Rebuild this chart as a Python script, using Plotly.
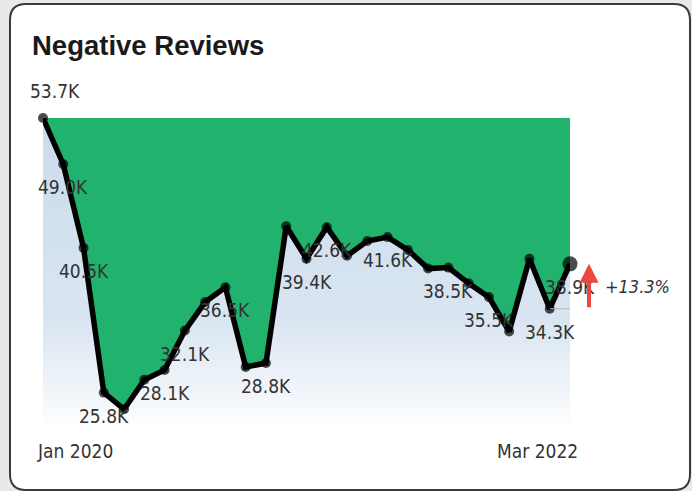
import plotly.graph_objects as go

# ---------------- data ----------------
months = ["Jan 2020", "Feb 2020", "Mar 2020", "Apr 2020", "May 2020", "Jun 2020",
          "Jul 2020", "Aug 2020", "Sep 2020", "Oct 2020", "Nov 2020", "Dec 2020",
          "Jan 2021", "Feb 2021", "Mar 2021", "Apr 2021", "May 2021", "Jun 2021",
          "Jul 2021", "Aug 2021", "Sep 2021", "Oct 2021", "Nov 2021", "Dec 2021",
          "Jan 2022", "Feb 2022", "Mar 2022"]
values = [53.7, 49.0, 40.5, 25.8, 24.1, 27.1, 28.1, 32.1, 35.0, 36.5, 28.4, 28.8,
          42.7, 39.4, 42.6, 39.7, 41.2, 41.6, 40.3, 38.4, 38.5, 36.9, 35.5, 32.0,
          39.4, 34.32, 38.88]
labeled_idx = [0, 1, 2, 3, 6, 7, 9, 11, 13, 14, 17, 20, 22, 25, 26]
tick_labels = ["Jan 2020", "Mar 2022"]
title_text = "Negative Reviews"

# ---------------- layout constants ----------------
W, H = 692, 491
ML, MR, MT, MB = 43, 122, 118, 62
PW, PH = W - ML - MR, H - MT - MB
Y_BOTTOM = 22.1

n = len(values)
idx = list(range(n))
vmax = max(values)

LABEL_FONT = "Liberation Sans Narrow, DejaVu Sans Condensed, Arial Narrow, sans-serif"
TEXT_COLOR = "#333333"
GREEN = "#21B36E"

fig = go.Figure()

# baseline (invisible) for gradient band
fig.add_trace(go.Scatter(x=idx, y=[Y_BOTTOM] * n, mode="lines",
                         line=dict(width=0, color="rgba(0,0,0,0)"),
                         hoverinfo="skip", showlegend=False))
# max level with vertical gradient fill down to baseline
fig.add_trace(go.Scatter(x=idx, y=[vmax] * n, mode="lines",
                         line=dict(width=0, color="rgba(0,0,0,0)"),
                         fill="tonexty",
                         fillgradient=dict(type="vertical",
                                           colorscale=[[0.0, "#ffffff"],
                                                       [0.12, "#f1f5fa"],
                                                       [0.35, "#d9e5f1"],
                                                       [1.0, "#cadbec"]],
                                           start=Y_BOTTOM, stop=vmax),
                         hoverinfo="skip", showlegend=False))
# data line, green fill between line and max level
fig.add_trace(go.Scatter(x=idx, y=values, mode="lines+markers",
                         fill="tonexty", fillcolor=GREEN,
                         line=dict(color="#000000", width=5.5),
                         marker=dict(color="#000000", size=[10] * (n - 1) + [15],
                                     line=dict(width=0, color="#000000")),
                         cliponaxis=False, hoverinfo="skip", showlegend=False))

annotations = []
for i in labeled_idx:
    v = values[i]
    if v == vmax:
        annotations.append(dict(x=i, y=v, text=f"{v:.1f}K", showarrow=False,
                                xanchor="left", yanchor="middle", xshift=-15, yshift=27,
                                font=dict(family=LABEL_FONT, size=19, color=TEXT_COLOR)))
    else:
        annotations.append(dict(x=i, y=v, text=f"{v:.1f}K", showarrow=False,
                                xanchor="center", yanchor="middle", yshift=-23,
                                font=dict(family=LABEL_FONT, size=19, color=TEXT_COLOR)))

# x tick labels (first / last)
annotations.append(dict(x=0, y=0, yref="paper", text=tick_labels[0], showarrow=False,
                        xanchor="left", yanchor="middle", xshift=-8, yshift=-22,
                        font=dict(family=LABEL_FONT, size=19, color=TEXT_COLOR)))
annotations.append(dict(x=n - 1, y=0, yref="paper", text=tick_labels[1], showarrow=False,
                        xanchor="right", yanchor="middle", xshift=10, yshift=-22,
                        font=dict(family=LABEL_FONT, size=19, color=TEXT_COLOR)))

# title
annotations.append(dict(x=0, y=1, xref="paper", yref="paper", text=f"<b>{title_text}</b>",
                        showarrow=False, xanchor="left", yanchor="middle",
                        xshift=30 - ML, yshift=MT - 45,
                        font=dict(family="Liberation Sans, Arial, sans-serif", size=27.5,
                                  color="#1a1a1a")))

# change arrow
last, prev = values[-1], values[-2]
annotations.append(dict(x=n - 1, y=last, ax=n - 1, ay=prev, axref="x", ayref="y",
                        xref="x", yref="y", text="", showarrow=True, xshift=19,
                        arrowhead=2, arrowsize=0.95, arrowwidth=4, arrowcolor="#E9473F"))
pct = (last / prev - 1) * 100
annotations.append(dict(x=n - 1, y=(last + prev) / 2, text=f"<i>{pct:+.1f}%</i>",
                        showarrow=False, xanchor="left", yanchor="middle", xshift=33,
                        font=dict(family=LABEL_FONT, size=18, color=TEXT_COLOR)))

# ---------------- shapes ----------------
def pxx(p):
    return (p - ML) / PW


def pxy(p):
    return (MT + PH - p) / PH


x0, y0, x1, y1, r = 10, 4, 690, 490, 16
path = (f"M {pxx(x0 + r)},{pxy(y0)} L {pxx(x1 - r)},{pxy(y0)} "
        f"Q {pxx(x1)},{pxy(y0)} {pxx(x1)},{pxy(y0 + r)} "
        f"L {pxx(x1)},{pxy(y1 - r)} Q {pxx(x1)},{pxy(y1)} {pxx(x1 - r)},{pxy(y1)} "
        f"L {pxx(x0 + r)},{pxy(y1)} Q {pxx(x0)},{pxy(y1)} {pxx(x0)},{pxy(y1 - r)} "
        f"L {pxx(x0)},{pxy(y0 + r)} Q {pxx(x0)},{pxy(y0)} {pxx(x0 + r)},{pxy(y0)} Z")

shapes = [
    dict(type="path", path=path, xref="paper", yref="paper", layer="below",
         fillcolor="#ffffff", line=dict(color="#3a3a3a", width=2)),
    dict(type="line", xref="x", yref="y", xsizemode="pixel", xanchor=n - 1,
         x0=0, x1=20, y0=last, y1=last, line=dict(color="#b5b5b5", width=1)),
    dict(type="line", xref="x", yref="y", xsizemode="pixel", xanchor=n - 1,
         x0=-20, x1=20, y0=prev, y1=prev, line=dict(color="#b5b5b5", width=1)),
]

fig.update_layout(
    width=W, height=H, autosize=False,
    margin=dict(l=ML, r=MR, t=MT, b=MB, pad=0),
    paper_bgcolor="#e9e9e9", plot_bgcolor="rgba(0,0,0,0)",
    xaxis=dict(range=[0, n - 1], visible=False, fixedrange=True),
    yaxis=dict(range=[Y_BOTTOM, vmax], visible=False, fixedrange=True),
    annotations=annotations, shapes=shapes, showlegend=False,
)

fig.write_html("out.html", config={"displayModeBar": False},
               post_script="document.body.style.margin='0';document.body.style.overflow='hidden';")
